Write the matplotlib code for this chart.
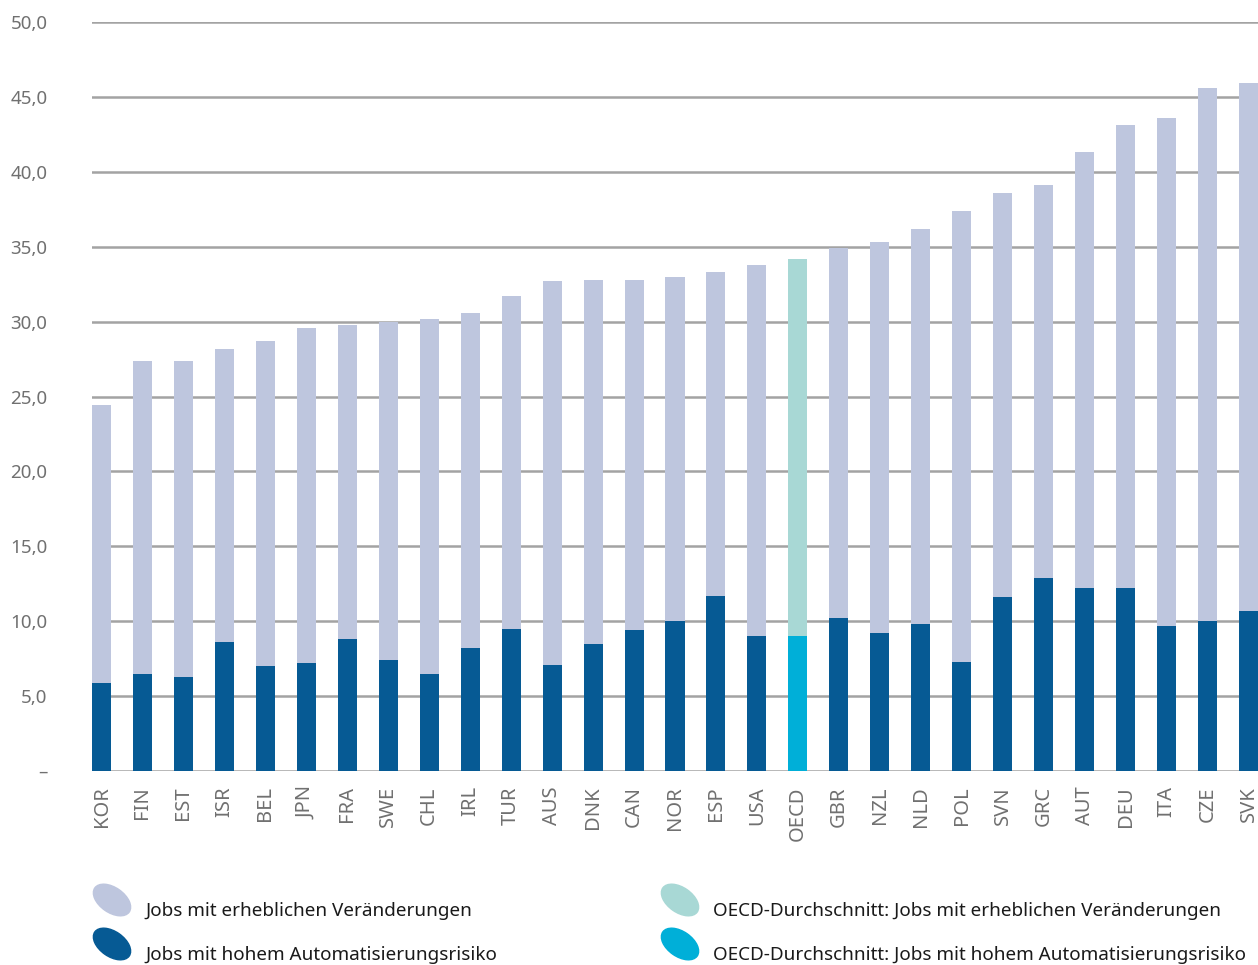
import matplotlib
matplotlib.use("Agg")
import matplotlib.pyplot as plt
from matplotlib.patches import Ellipse
from matplotlib.ticker import FuncFormatter

plt.rcParams['font.family'] = ['Noto Sans', 'DejaVu Sans']

# data
countries = ["KOR", "FIN", "EST", "ISR", "BEL", "JPN", "FRA", "SWE", "CHL", "IRL",
             "TUR", "AUS", "DNK", "CAN", "NOR", "ESP", "USA", "OECD", "GBR", "NZL",
             "NLD", "POL", "SVN", "GRC", "AUT", "DEU", "ITA", "CZE", "SVK"]
# share of jobs with high automation risk (dark part)
high_risk = [5.9, 6.5, 6.3, 8.6, 7.0, 7.2, 8.8, 7.4, 6.5, 8.2,
             9.5, 7.1, 8.5, 9.4, 10.0, 11.7, 9.0, 9.0, 10.2, 9.2,
             9.8, 7.3, 11.6, 12.9, 12.2, 12.2, 9.7, 10.0, 10.7]
# total height = high risk + significant change
total = [24.4, 27.4, 27.4, 28.2, 28.7, 29.6, 29.8, 30.0, 30.2, 30.6,
         31.7, 32.7, 32.8, 32.8, 33.0, 33.3, 33.8, 34.2, 34.9, 35.3,
         36.2, 37.4, 38.6, 39.1, 41.3, 43.1, 43.6, 45.6, 45.9]
change = [t - h for t, h in zip(total, high_risk)]

dark = "#065a94"
light = "#bec6de"
oecd_dark = "#00afd8"
oecd_light = "#a8d8d5"

legend_labels = ["Jobs mit erheblichen Veränderungen",
                 "Jobs mit hohem Automatisierungsrisiko",
                 "OECD-Durchschnitt: Jobs mit erheblichen Veränderungen",
                 "OECD-Durchschnitt: Jobs mit hohem Automatisierungsrisiko"]

W, H = 1258, 965
fig = plt.figure(figsize=(W / 100, H / 100), dpi=100)
ax = fig.add_axes([92 / W, 1 - 771 / H, 1 - 92 / W, (771 - 22) / H])

x = list(range(len(countries)))
dark_colors = [oecd_dark if c == "OECD" else dark for c in countries]
light_colors = [oecd_light if c == "OECD" else light for c in countries]
width = 0.464
ax.bar(x, high_risk, width=width, color=dark_colors, zorder=2)
ax.bar(x, change, bottom=high_risk, width=width, color=light_colors, zorder=2)

ax.set_xlim(-width / 2, len(countries) - 1 + width / 2)
ax.set_ylim(0, 50)
ax.set_yticks(range(0, 51, 5))
ax.yaxis.set_major_formatter(FuncFormatter(
    lambda v, p: "–" if v == 0 else f"{v:.1f}".replace(".", ",")))
ax.grid(axis="y", color="#a3a3a3", linewidth=1.8, zorder=0)
ax.set_xticks(x)
ax.set_xticklabels(countries, rotation=90)
ax.tick_params(axis="x", length=0, pad=11, labelsize=14.5, labelcolor="#707070")
ax.tick_params(axis="y", length=0, pad=32, labelsize=13.5, labelcolor="#707070")
for s in ax.spines.values():
    s.set_visible(False)
ax.set_axisbelow(True)

# legend drawn by hand: tilted ellipses with text
entries = [(112, 900, light, legend_labels[0]),
           (112, 944, dark, legend_labels[1]),
           (680, 900, oecd_light, legend_labels[2]),
           (680, 944, oecd_dark, legend_labels[3])]
for ex, ey, col, lab in entries:
    e = Ellipse((ex / 100, (H - ey) / 100), 0.42, 0.25, angle=-35,
                color=col, transform=fig.dpi_scale_trans)
    fig.add_artist(e)
    fig.text((ex + 33) / W, 1 - (ey + 11) / H, lab, fontsize=13.6,
             color="#1a1a1a", va="center", ha="left")

fig.savefig("out.png", dpi=100)
